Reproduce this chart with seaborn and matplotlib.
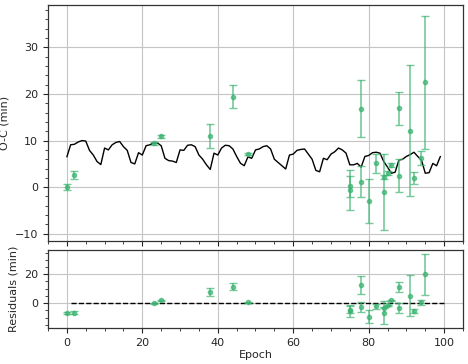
import numpy as np
import pandas as pd
import matplotlib
matplotlib.use("Agg")
import matplotlib.pyplot as plt
import seaborn as sns
from matplotlib.ticker import AutoMinorLocator

# Observed O-C values
epoch = [0, 2, 23, 25, 38, 44, 48, 75, 75, 78, 78, 80, 82, 84, 84, 85, 86, 88, 88, 91, 92, 94, 95]
oc = [0.0, 2.6, 9.45, 10.9, 11.0, 19.45, 7.1, 0.15, -0.55, 16.8, 1.2, -2.95, 5.15, 2.15, -1.05, 3.1, 4.8, 16.9, 2.5, 12.15, 2.05, 6.35, 22.5]
oc_err = [0.65, 0.8, 0.3, 0.3, 2.6, 2.5, 0.3, 2.2, 4.3, 6.1, 3.4, 4.8, 2.0, 0.5, 8.2, 0.4, 0.4, 3.5, 3.5, 14.1, 1.3, 1.5, 14.3]

# Residuals (O-C minus model)
resid = [-6.6, -6.6, -0.2, 2.0, 7.5, 11.4, 0.7, -4.5, -5.3, 12.7, -2.7, -9.3, -2.3, -3.2, -6.6, -1.4, 2.0, 11.1, -3.4, 5.2, -5.5, 0.5, 20.0]

# Model curve sampled per epoch
model_epoch = list(range(0, 100))
model_oc = [6.5, 9.1, 9.2, 9.7, 10.0, 9.9, 7.9, 6.9, 5.5, 4.85,
            8.4, 8.0, 9.1, 9.6, 9.8, 8.7, 7.9, 5.3, 5.0, 7.4,
            6.9, 8.9, 9.1, 9.5, 9.5, 8.9, 6.2, 5.7, 5.6, 5.3,
            8.0, 7.9, 9.0, 9.1, 8.7, 6.9, 6.0, 4.8, 3.8, 7.3,
            6.9, 8.4, 9.0, 8.9, 8.2, 6.6, 5.15, 4.6, 6.5, 6.2,
            8.0, 8.2, 8.7, 8.9, 8.2, 6.0, 5.3, 4.6, 3.9, 6.9,
            7.1, 7.9, 8.1, 8.2, 7.1, 6.0, 3.6, 3.3, 6.2, 5.9,
            7.1, 7.6, 8.4, 8.0, 7.3, 4.8, 4.8, 5.1, 4.3, 6.6,
            6.8, 7.4, 7.5, 7.3, 5.5, 4.3, 3.0, 3.2, 5.8, 6.0,
            6.6, 7.0, 7.5, 6.6, 5.8, 3.0, 3.1, 5.1, 4.6, 6.6]

zero_x = [1, 100]
zero_y = [0, 0]

sns.set_style("ticks")
plt.rcParams["font.family"] = ["DejaVu Sans"]
plt.rcParams["font.size"] = 8

green = "mediumseagreen"

fig = plt.figure(figsize=(4.68, 3.64), dpi=100)
ax1 = fig.add_axes([48/468, 1 - 241/364, 415/468, 236/364])
ax2 = fig.add_axes([48/468, 1 - 328/364, 415/468, 78/364], sharex=ax1)

model_df = pd.DataFrame({"Epoch": model_epoch, "O-C": model_oc})
sns.lineplot(data=model_df, x="Epoch", y="O-C", ax=ax1, color="black", lw=1.0, zorder=3)
ax1.errorbar(epoch, oc, yerr=oc_err, fmt="o", ms=3, color=green, ecolor=green,
             elinewidth=1.2, capsize=3, alpha=0.7, zorder=4)

sns.lineplot(x=zero_x, y=zero_y, ax=ax2, color="black", lw=1.0, linestyle="--", zorder=3)
ax2.errorbar(epoch, resid, yerr=oc_err, fmt="o", ms=3, color=green, ecolor=green,
             elinewidth=1.2, capsize=3, alpha=0.7, zorder=4)

for ax in (ax1, ax2):
    ax.grid(True, color="#c4c4c4", lw=0.8)
    ax.set_axisbelow(True)
    ax.xaxis.set_minor_locator(AutoMinorLocator())
    ax.yaxis.set_minor_locator(AutoMinorLocator())
    ax.tick_params(which="major", length=3.5, width=0.8, labelsize=8, direction="out")
    ax.tick_params(which="minor", length=2, width=0.6, direction="out")
    for s in ax.spines.values():
        s.set_color("#333333")
        s.set_linewidth(0.9)

ax1.set_xlim(-5, 105)
ax1.set_ylabel("O-C (min)", fontsize=8)
ax1.set_xlabel("")
ax1.set_yticks([-10, 0, 10, 20, 30])
plt.setp(ax1.get_xticklabels(), visible=False)

ax2.set_yticks([0, 20])
ax2.set_xticks([0, 20, 40, 60, 80, 100])
ax2.set_ylabel("Residuals (min)", fontsize=8)
ax2.set_xlabel("Epoch", fontsize=8, labelpad=2)

fig.savefig("out.png", dpi=100)
